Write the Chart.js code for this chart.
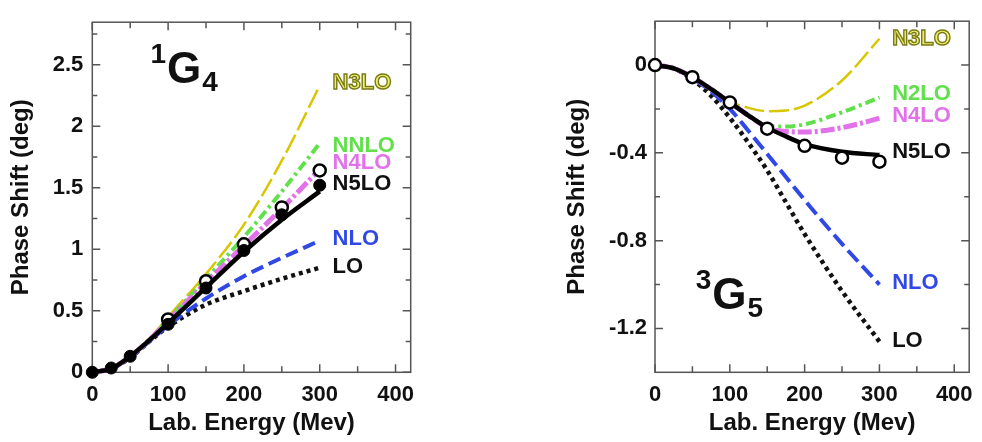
<!DOCTYPE html>
<html>
<head>
<meta charset="utf-8">
<script src="https://cdn.jsdelivr.net/npm/chart.js@4.4.0/dist/chart.umd.min.js"></script>
<style>
  html, body { margin: 0; padding: 0; background: #fff; }
  body { width: 982px; height: 442px; position: relative; overflow: hidden; }
  .panel { position: absolute; top: 0; height: 442px; }
  #left-wrap { left: 0; width: 430px; }
  #right-wrap { left: 560px; width: 422px; }
</style>
</head>
<body>
<div class="panel" id="left-wrap"><canvas id="g4-chart" width="430" height="442"></canvas></div>
<div class="panel" id="right-wrap"><canvas id="g5-chart" width="422" height="442"></canvas></div>
<script>
// 1G4 curves (lab energy in MeV, phase shift in deg)
const g4Energies = [0, 25, 50, 75, 100, 150, 200, 250, 300];
const g4LO   = [0, 0.03, 0.12, 0.25, 0.37, 0.55, 0.66, 0.76, 0.85];
const g4NLO  = [0, 0.03, 0.12, 0.25, 0.38, 0.60, 0.78, 0.93, 1.07];
const g4NNLO = [0, 0.03, 0.13, 0.26, 0.43, 0.76, 1.10, 1.47, 1.86];
const g4N3LO = [0, 0.03, 0.13, 0.27, 0.45, 0.80, 1.20, 1.72, 2.33];
const g4N4LO = [0, 0.03, 0.13, 0.26, 0.42, 0.73, 1.03, 1.33, 1.65];
const g4N5LO = [0, 0.03, 0.13, 0.26, 0.40, 0.69, 0.98, 1.24, 1.47];
// 1G4 phase shift analyses
const g4FilledE = [0, 25, 50, 100, 150, 200, 250, 300];
const g4Filled  = [0, 0.035, 0.13, 0.39, 0.685, 0.99, 1.28, 1.52];
const g4OpenE   = [100, 150, 200, 250, 300];
const g4Open    = [0.43, 0.74, 1.04, 1.34, 1.64];

// 3G5 curves
const g5Energies = [0, 25, 50, 75, 100, 125, 150, 175, 200, 250, 300];
const g5LO   = [0, -0.015, -0.065, -0.14, -0.24, -0.355, -0.48, -0.625, -0.77, -1.03, -1.26];
const g5NLO  = [0, -0.015, -0.06, -0.12, -0.20, -0.30, -0.405, -0.51, -0.615, -0.815, -1.0];
const g5N2LO = [0, -0.015, -0.055, -0.11, -0.17, -0.23, -0.275, -0.28, -0.27, -0.215, -0.148];
const g5N3LO = [0, -0.015, -0.055, -0.11, -0.165, -0.195, -0.21, -0.207, -0.185, -0.07, 0.12];
const g5N4LO = [0, -0.015, -0.055, -0.11, -0.17, -0.23, -0.285, -0.303, -0.305, -0.285, -0.243];
const g5N5LO = [0, -0.015, -0.055, -0.11, -0.17, -0.23, -0.285, -0.325, -0.36, -0.395, -0.41];
const g5OpenE = [0, 50, 100, 150, 200, 250, 300];
const g5Open  = [0, -0.055, -0.17, -0.29, -0.368, -0.422, -0.44];

// axes
const xTicks = [0, 50, 100, 150, 200, 250, 300, 350, 400];
const xLabels = [0, 100, 200, 300, 400];
const g4YTicks = [0, 0.25, 0.5, 0.75, 1, 1.25, 1.5, 1.75, 2, 2.25, 2.5, 2.75];
const g4YLabels = [0, 0.5, 1, 1.5, 2, 2.5];
const g5YTicks = [0, -0.2, -0.4, -0.6, -0.8, -1.0, -1.2];
const g5YLabels = [0, -0.4, -0.8, -1.2];

const FONT = '"Liberation Sans", Helvetica, Arial, sans-serif';
const INK = '#111';
const C = { lo: '#111', nlo: '#3048e6', nnlo: '#62e04c', n3lo: '#d8c600', n4lo: '#e272ea', n5lo: '#000' };

const pts = (xs, ys) => xs.map((x, i) => ({ x: x, y: ys[i] }));

function curve(xs, ys, color, width, dash, order) {
    return {
        data: pts(xs, ys), borderColor: color, borderWidth: width, borderDash: dash,
        pointRadius: 0, cubicInterpolationMode: 'monotone', fill: false, clip: false, order: order
    };
}

function markers(xs, ys, filled, order) {
    return {
        data: pts(xs, ys), showLine: false, pointRadius: 6, pointHoverRadius: 6,
        pointBackgroundColor: filled ? '#000' : '#fff', pointBorderColor: '#000',
        pointBorderWidth: filled ? 1 : 2.5, clip: false, order: order
    };
}

// frame, inward tick marks and the text drawn on the plot
const decorPlugin = {
    id: 'decor',
    beforeDatasetsDraw(chart, args, opts) {
        const { ctx, chartArea: a, scales } = chart;
        ctx.save();
        ctx.strokeStyle = '#555';
        ctx.lineWidth = 1.5;
        ctx.strokeRect(a.left, a.top, a.right - a.left, a.bottom - a.top);
        ctx.beginPath();
        opts.xTicks.forEach(v => {
            const px = scales.x.getPixelForValue(v);
            const len = opts.xLabels.includes(v) ? 8 : 6;
            ctx.moveTo(px, a.bottom); ctx.lineTo(px, a.bottom - len);
            ctx.moveTo(px, a.top); ctx.lineTo(px, a.top + len);
        });
        opts.yTicks.forEach(v => {
            const py = scales.y.getPixelForValue(v);
            const len = opts.yLabels.includes(v) ? 8 : 5;
            ctx.moveTo(a.left, py); ctx.lineTo(a.left + len, py);
            ctx.moveTo(a.right, py); ctx.lineTo(a.right - len, py);
        });
        ctx.stroke();
        ctx.restore();
    },
    afterDatasetsDraw(chart, args, opts) {
        const { ctx, scales } = chart;
        ctx.save();
        ctx.textBaseline = 'middle';
        ctx.textAlign = 'left';
        ctx.font = 'bold 22px ' + FONT;
        opts.names.forEach(n => {
            const px = scales.x.getPixelForValue(n.at[0]);
            const py = scales.y.getPixelForValue(n.at[1]);
            if (n.outline) {
                ctx.fillStyle = '#eeee70';
                ctx.fillText(n.text, px, py);
                ctx.strokeStyle = n.outline;
                ctx.lineWidth = 1.4;
                ctx.strokeText(n.text, px, py);
            } else {
                ctx.fillStyle = n.color;
                ctx.fillText(n.text, px, py);
            }
        });
        // wave label like 1G4
        const t = opts.wave;
        let x = scales.x.getPixelForValue(t.at[0]);
        const base = scales.y.getPixelForValue(t.at[1]);
        ctx.textBaseline = 'alphabetic';
        ctx.fillStyle = INK;
        ctx.font = 'bold 28px ' + FONT;
        const supW = ctx.measureText(t.sup).width;
        ctx.fillText(t.sup, x - supW - 1, base - 20);
        ctx.font = 'bold 44px ' + FONT;
        ctx.fillText(t.main, x, base);
        x += ctx.measureText(t.main).width + 1;
        ctx.font = 'bold 28px ' + FONT;
        ctx.fillText(t.sub, x, base + 8);
        ctx.restore();
    }
};

function axes(yMin, yMax, yTicks, yLabels, yWidth, yTitlePad, yTickPad) {
    return {
        x: {
            type: 'linear', min: 0, max: 420,
            afterBuildTicks: s => { s.ticks = xTicks.map(v => ({ value: v })); },
            afterFit: s => { s.height = 69.7; },
            grid: { display: false, drawTicks: false },
            border: { display: false },
            ticks: {
                padding: 9, color: INK, font: { family: FONT, size: 22, weight: 'bold' },
                maxRotation: 0, autoSkip: false,
                callback: v => xLabels.includes(v) ? String(v) : ''
            },
            title: {
                display: true, text: 'Lab. Energy (Mev)', color: INK,
                font: { family: FONT, size: 24, weight: 'bold' }, padding: { top: 0, bottom: 4 }
            }
        },
        y: {
            type: 'linear', min: yMin, max: yMax,
            afterBuildTicks: s => { s.ticks = yTicks.map(v => ({ value: v })); },
            afterFit: s => { s.width = yWidth; },
            grid: { display: false, drawTicks: false },
            border: { display: false },
            ticks: {
                padding: yTickPad, color: INK, font: { family: FONT, size: 22, weight: 'bold' },
                autoSkip: false,
                callback: v => yLabels.includes(v) ? String(v) : ''
            },
            title: {
                display: true, text: 'Phase Shift (deg)', color: INK,
                font: { family: FONT, size: 24, weight: 'bold' }, padding: { top: yTitlePad, bottom: 0 }
            }
        }
    };
}

const common = {
    responsive: false,
    animation: false,
    events: [],
    plugins: { legend: { display: false }, tooltip: { enabled: false } }
};

new Chart(document.getElementById('g4-chart').getContext('2d'), {
    type: 'line',
    data: {
        datasets: [
            markers(g4FilledE, g4Filled, true, 1),
            curve(g4Energies, g4N5LO, C.n5lo, 4.5, [], 2),
            markers(g4OpenE, g4Open, false, 3),
            curve(g4Energies, g4N4LO, C.n4lo, 5, [14, 3, 3, 3], 4),
            curve(g4Energies, g4NNLO, C.nnlo, 4, [10, 4, 3, 4], 5),
            curve(g4Energies, g4N3LO, C.n3lo, 2.5, [20, 5], 6),
            curve(g4Energies, g4NLO, C.nlo, 4, [13, 6], 7),
            curve(g4Energies, g4LO, C.lo, 4.5, [4, 4], 8)
        ]
    },
    options: Object.assign({}, common, {
        layout: { padding: { top: 9, right: 19.3, bottom: 0, left: 0 } },
        scales: axes(0, 2.845, g4YTicks, g4YLabels, 92.3, 7, 9),
        plugins: Object.assign({}, common.plugins, {
            decor: {
                xTicks: xTicks, xLabels: xLabels, yTicks: g4YTicks, yLabels: g4YLabels,
                names: [
                    { text: 'N3LO', at: [317, 2.35], outline: '#7a7a14' },
                    { text: 'NNLO', at: [317, 1.84], color: C.nnlo },
                    { text: 'N4LO', at: [317, 1.70], color: C.n4lo },
                    { text: 'N5LO', at: [317, 1.53], color: INK },
                    { text: 'NLO', at: [317, 1.08], color: C.nlo },
                    { text: 'LO', at: [317, 0.86], color: INK }
                ],
                wave: { sup: '1', main: 'G', sub: '4', at: [98.5, 2.352] }
            }
        })
    }),
    plugins: [decorPlugin]
});

new Chart(document.getElementById('g5-chart').getContext('2d'), {
    type: 'line',
    data: {
        datasets: [
            markers(g5OpenE, g5Open, false, 1),
            curve(g5Energies, g5N5LO, C.n5lo, 4.5, [], 2),
            curve(g5Energies, g5N4LO, C.n4lo, 5, [14, 3, 3, 3], 3),
            curve(g5Energies, g5N2LO, C.nnlo, 4, [10, 4, 3, 4], 4),
            curve(g5Energies, g5N3LO, C.n3lo, 2.5, [20, 5], 5),
            curve(g5Energies, g5NLO, C.nlo, 4, [15, 6], 6),
            curve(g5Energies, g5LO, C.lo, 4.5, [4, 4], 7)
        ]
    },
    options: Object.assign({}, common, {
        layout: { padding: { top: 9.7, right: 7.7, bottom: 0, left: 0 } },
        scales: axes(-1.4, 0.2, g5YTicks, g5YLabels, 95, 3, 8),
        plugins: Object.assign({}, common.plugins, {
            decor: {
                xTicks: xTicks, xLabels: xLabels, yTicks: g5YTicks, yLabels: g5YLabels,
                names: [
                    { text: 'N3LO', at: [317, 0.119], outline: '#7a7a14' },
                    { text: 'N2LO', at: [317, -0.132], color: C.nnlo },
                    { text: 'N4LO', at: [317, -0.23], color: C.n4lo },
                    { text: 'N5LO', at: [317, -0.397], color: INK },
                    { text: 'NLO', at: [317, -0.993], color: C.nlo },
                    { text: 'LO', at: [317, -1.258], color: INK }
                ],
                wave: { sup: '3', main: 'G', sub: '5', at: [76.6, -1.112] }
            }
        })
    }),
    plugins: [decorPlugin]
});
</script>
</body>
</html>
